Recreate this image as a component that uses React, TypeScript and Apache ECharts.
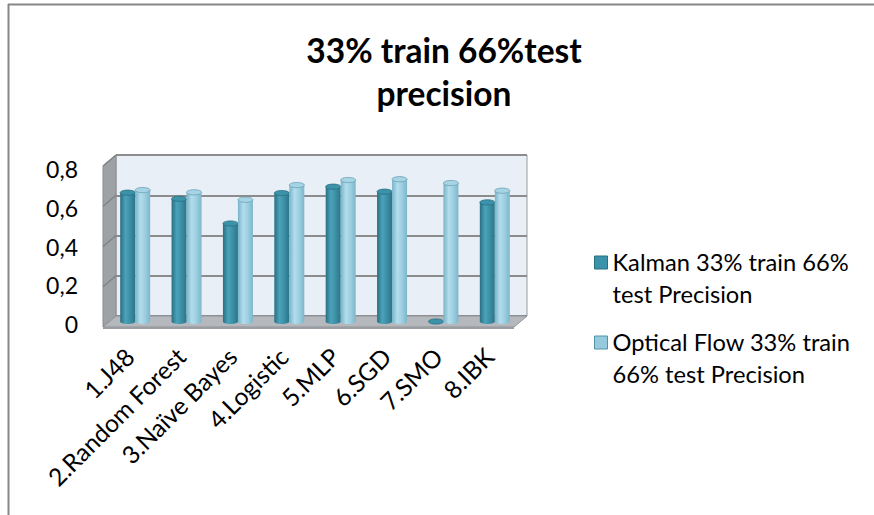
import React, { useEffect, useRef } from "react";
import * as echarts from "echarts";

const CATEGORIES = ["1.J48", "2.Random Forest", "3.Naïve Bayes", "4.Logistic", "5.MLP", "6.SGD", "7.SMO", "8.IBK"];
const KALMAN = [0.64, 0.61, 0.487, 0.638, 0.67, 0.645, 0, 0.592];
const OPTICAL = [0.653, 0.642, 0.605, 0.678, 0.703, 0.707, 0.688, 0.65];
const SERIES_NAMES = ["Kalman 33% train 66% test Precision", "Optical Flow 33% train 66% test Precision"];
const LEGEND_LABELS = ["Kalman 33% train 66%\ntest Precision", "Optical Flow 33% train\n66% test Precision"];
const Y_TICKS = [0, 0.2, 0.4, 0.6, 0.8];
const Y_LABELS = ["0", "0,2", "0,4", "0,6", "0,8"];
const TITLE = "33% train 66%test\nprecision";

const FONT = "Lato, 'Open Sans', sans-serif";
const BACK = { l: 116, r: 527, t: 155, b: 316 };
const DX = -13;
const DY = 11;
const BAR_W = 15;

const STYLES = [
  {
    body: [
      { offset: 0, color: "#2a6e81" },
      { offset: 0.35, color: "#4aa3ba" },
      { offset: 0.6, color: "#3f93a9" },
      { offset: 1, color: "#2c7488" },
    ],
    top: "#3c93a9",
    topStroke: "#2a6e81",
    legend: "#3a93ab",
    legendBorder: "#2a6e81",
  },
  {
    body: [
      { offset: 0, color: "#78b3c7" },
      { offset: 0.35, color: "#b2dded" },
      { offset: 0.65, color: "#9dcfe1" },
      { offset: 1, color: "#7db6ca" },
    ],
    top: "#a6d4e5",
    topStroke: "#6aa2b6",
    legend: "#97cadc",
    legendBorder: "#4f93a9",
  },
];

function cylinder(idx: number) {
  return (params: any, api: any) => {
    const cat = api.value(0);
    const val = api.value(1);
    const base = api.coord([cat, 0]);
    const top = api.coord([cat, val]);
    const off = idx === 0 ? -BAR_W / 2 : BAR_W / 2;
    const cx = base[0] + off;
    const st = STYLES[idx];
    const h = base[1] - top[1];
    const children: any[] = [];
    if (h > 0.5) {
      children.push({
        type: "ellipse",
        shape: { cx, cy: base[1], rx: BAR_W / 2, ry: 2.5 },
        style: { fill: new echarts.graphic.LinearGradient(0, 0, 1, 0, st.body) },
      });
      children.push({
        type: "rect",
        shape: { x: cx - BAR_W / 2, y: top[1], width: BAR_W, height: h },
        style: { fill: new echarts.graphic.LinearGradient(0, 0, 1, 0, st.body) },
      });
    }
    children.push({
      type: "ellipse",
      shape: { cx, cy: top[1], rx: BAR_W / 2, ry: 2.6 },
      style: { fill: st.top, stroke: st.topStroke, lineWidth: 0.8 },
    });
    return { type: "group", children };
  };
}

export default function App() {
  const ref = useRef<HTMLDivElement>(null);
  useEffect(() => {
    if (!ref.current) return;
    const chart = echarts.init(ref.current, null, { renderer: "svg" });
    const W = 874;
    const H = 515;
    const mid = { l: BACK.l + DX / 2, r: BACK.r + DX / 2, t: BACK.t + DY / 2, b: BACK.b + DY / 2 };
    const front = { l: BACK.l + DX, r: BACK.r + DX, t: BACK.t + DY, b: BACK.b + DY };
    const option: any = {
      animation: false,
      backgroundColor: "#ffffff",
      title: {
        text: TITLE,
        left: 439,
        top: 23,
        textAlign: "center",
        textStyle: { fontFamily: FONT, fontSize: 33.5, fontWeight: "bold", color: "#000", lineHeight: 43 },
      },
      legend: {
        orient: "vertical",
        left: 589,
        top: 241,
        itemWidth: 13,
        itemHeight: 44,
        itemGap: 16,
        icon: "path://M0,0H13V13H0Z M0,44L0,44",
        selectedMode: false,
        formatter: (name: string) => LEGEND_LABELS[SERIES_NAMES.indexOf(name)],
        textStyle: { fontFamily: FONT, fontSize: 23.7, color: "#000", lineHeight: 32 },
        data: SERIES_NAMES.map((n, i) => ({
          name: n,
          itemStyle: { color: STYLES[i].legend, borderColor: STYLES[i].legendBorder, borderWidth: 1 },
        })),
      },
      grid: [
        { left: mid.l, right: W - mid.r, top: mid.t, bottom: H - mid.b },
        {
          left: BACK.l, right: W - BACK.r, top: BACK.t, bottom: H - BACK.b,
          show: true, backgroundColor: "#e9eff6", borderColor: "#9a9a9a", borderWidth: 1,
        },
        { left: front.l, right: W - front.r, top: front.t + 3, bottom: H - front.b + 3 },
      ],
      xAxis: [
        {
          type: "category", gridIndex: 0, data: CATEGORIES,
          axisLine: { show: false }, axisTick: { show: false },
          axisLabel: {
            rotate: 45, fontFamily: FONT, fontSize: 24.5, color: "#000", margin: 25, interval: 0,
            padding: [0, 8, 0, 0],
          },
        },
        { type: "category", gridIndex: 1, data: CATEGORIES, show: false },
        { type: "category", gridIndex: 2, data: CATEGORIES, show: false },
      ],
      yAxis: [
        { type: "value", gridIndex: 0, min: 0, max: 0.8, interval: 0.2, show: false },
        {
          type: "value", gridIndex: 1, min: 0, max: 0.8, interval: 0.2,
          axisLine: { show: false }, axisTick: { show: false }, axisLabel: { show: false },
          splitLine: { show: true, lineStyle: { color: "#8c8c8c", width: 2 } },
        },
        {
          type: "value", gridIndex: 2, min: 0, max: 0.8, interval: 0.2,
          axisLine: { show: false }, axisTick: { show: false }, splitLine: { show: false },
          axisLabel: {
            fontFamily: FONT, fontSize: 23, color: "#000", margin: 25,
            formatter: (v: number) => {
              const i = Y_TICKS.findIndex((t) => Math.abs(t - v) < 1e-6);
              return i >= 0 ? Y_LABELS[i] : "";
            },
          },
        },
      ],
      series: [KALMAN, OPTICAL].map((arr, idx) => ({
        type: "custom",
        name: SERIES_NAMES[idx],
        xAxisIndex: 0,
        yAxisIndex: 0,
        z: 5,
        renderItem: cylinder(idx),
        encode: { x: 0, y: 1 },
        data: arr.map((v, i) => [i, v]),
      })),
    };
    chart.setOption(option);

    const yb = (v: number) => chart.convertToPixel({ yAxisIndex: 1 } as any, v) as number;
    const yf = (v: number) => yb(v) + DY;
    const bl = BACK.l;
    const fl = BACK.l + DX;
    const graphics: any[] = [
      { type: "line", shape: { x1: 8.5, y1: 4, x2: 8.5, y2: H }, style: { stroke: "#878787", lineWidth: 2 }, z: 0 },
      { type: "line", shape: { x1: 8, y1: 4.5, x2: W, y2: 4.5 }, style: { stroke: "#878787", lineWidth: 2 }, z: 0 },
      {
        type: "polygon",
        shape: { points: [[fl, yf(0.8)], [bl, yb(0.8)], [bl, yb(0)], [fl, yf(0)]] },
        style: { fill: "#9da2a7", stroke: "#8c8c8c", lineWidth: 1 },
        z: 1,
      },
      {
        type: "polygon",
        shape: { points: [[bl, yb(0)], [BACK.r, yb(0)], [BACK.r + DX, yf(0)], [fl, yf(0)]] },
        style: { fill: "#b5b9bd", stroke: "#8f9397", lineWidth: 1 },
        z: 1,
      },
      {
        type: "polygon",
        shape: { points: [[fl, yf(0)], [BACK.r + DX, yf(0)], [BACK.r + DX, yf(0) + 2], [fl, yf(0) + 2]] },
        style: { fill: "#9a9ea2" },
        z: 1,
      },
    ];
    Y_TICKS.slice(1).forEach((t) => {
      graphics.push({
        type: "line",
        shape: { x1: fl, y1: yf(t), x2: bl, y2: yb(t) },
        style: { stroke: "#7f8387", lineWidth: 1.5 },
        z: 1,
      });
    });
    chart.setOption({ graphic: graphics });
    return () => chart.dispose();
  }, []);
  return <div ref={ref} style={{ position: "absolute", left: 0, top: 0, width: 874, height: 515 }} />;
}
